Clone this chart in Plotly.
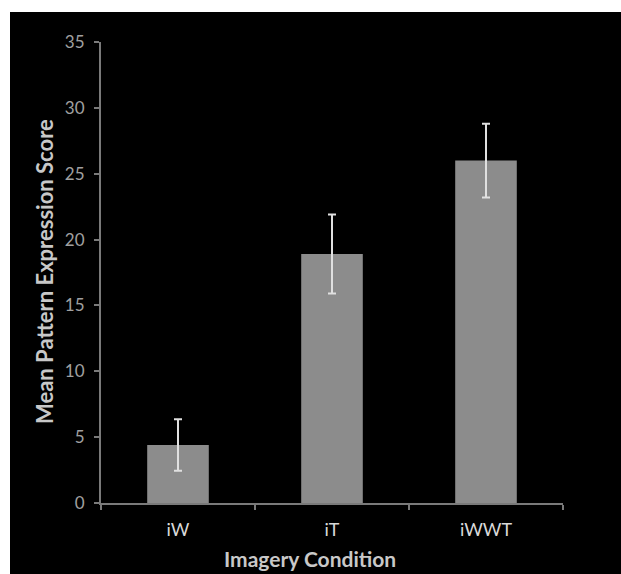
import plotly.graph_objects as go

categories = ["iW", "iT", "iWWT"]
means = [4.4, 18.9, 26.0]
errors = [1.95, 3.0, 2.8]
y_ticks = [0, 5, 10, 15, 20, 25, 30, 35]
x_title = "Imagery Condition"
y_title = "Mean Pattern Expression Score"

W, H = 621, 574
L, R, T, B = 101, 58, 42, 71
pw, ph = W - L - R, H - T - B

def px_x(p):
    return (p - L) / pw

def px_y(p):
    return (H - B - p) / ph

fig = go.Figure()
fig.add_trace(go.Bar(
    x=categories, y=means, width=0.4,
    marker=dict(color="#8c8c8c", line=dict(width=0)),
    error_y=dict(type="data", array=errors, visible=True,
                 color="#e0e0e0", thickness=2, width=4),
))

fig.add_shape(type="rect", xref="paper", yref="paper", layer="below",
              x0=px_x(10), x1=px_x(W), y0=px_y(H), y1=px_y(12),
              fillcolor="black", line=dict(width=0))

font = "Lato, Open Sans, sans-serif"
fig.add_annotation(text="<b>%s</b>" % x_title, xref="paper", yref="paper",
                   x=px_x(310), y=px_y(558), xanchor="center", yanchor="middle",
                   showarrow=False, font=dict(family=font, size=21, color="#c8c8c8"))
fig.add_annotation(text="<b>%s</b>" % y_title, xref="paper", yref="paper",
                   x=px_x(44), y=px_y(272), xanchor="center", yanchor="middle", textangle=-90,
                   showarrow=False, font=dict(family=font, size=22, color="#c8c8c8"))

fig.update_layout(
    width=W, height=H,
    margin=dict(l=L, r=R, t=T, b=B),
    paper_bgcolor="white", plot_bgcolor="rgba(0,0,0,0)",
    showlegend=False,
    xaxis=dict(
        showgrid=False, showline=True, linecolor="#7a7a7a", linewidth=2,
        ticks="outside", tickson="boundaries", ticklen=5, tickcolor="#7a7a7a", tickwidth=2,
        ticklabelstandoff=9,
        tickfont=dict(family=font, size=18, color="#d9d9d9"),
    ),
    yaxis=dict(
        range=[0, 35], tickvals=y_ticks, showgrid=False, zeroline=False,
        showline=True, linecolor="#7a7a7a", linewidth=2,
        ticks="outside", ticklen=5, tickcolor="#7a7a7a", tickwidth=2,
        ticklabelstandoff=6,
        tickfont=dict(family=font, size=17, color="#a0a0a0"),
    ),
)

fig.write_html("out.html")
